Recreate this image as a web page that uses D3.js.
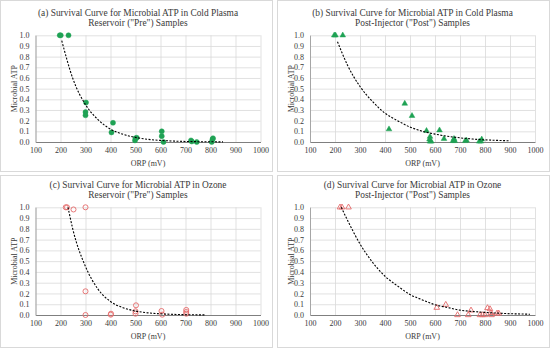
<!DOCTYPE html>
<html>
<head>
<meta charset="utf-8">
<script src="https://cdn.jsdelivr.net/npm/d3@7"></script>
<style>
  body { margin: 0; background: #fff; }
  svg text { font-family: "Times New Roman", "Liberation Serif", serif; fill: #3a3a3a; }
</style>
</head>
<body>
<svg id="chart" width="550" height="348"></svg>
<script>
// ticks
const orpTicks = [100, 200, 300, 400, 500, 600, 700, 800, 900, 1000];
const atpTicks = [0, 0.1, 0.2, 0.3, 0.4, 0.5, 0.6, 0.7, 0.8, 0.9, 1.0];

// (a) cold plasma, pre
const plasmaPreOrp = [197, 201, 232, 302, 300, 300, 404, 410, 498, 500, 505, 605, 605, 612, 722, 725, 745, 805, 808, 810];
const plasmaPreAtp = [1.0, 1.0, 1.0, 0.37, 0.28, 0.25, 0.09, 0.18, 0.015, 0.035, 0.04, 0.10, 0.055, 0.0, 0.015, 0.005, 0.0, 0.0, 0.025, 0.035];
const plasmaPreFitOrp = [205, 250, 300, 350, 400, 450, 500, 550, 600, 650, 700, 750, 800, 850];
const plasmaPreFitAtp = [0.95, 0.59, 0.35, 0.21, 0.12, 0.072, 0.043, 0.025, 0.015, 0.009, 0.005, 0.003, 0.002, 0.001];

// (b) cold plasma, post
const plasmaPostOrp = [197, 202, 231, 416, 479, 508, 566, 580, 578, 580, 585, 618, 636, 676, 672, 679, 721, 726, 777, 787, 783];
const plasmaPostAtp = [1.0, 1.0, 1.0, 0.12, 0.36, 0.245, 0.105, 0.05, 0.025, 0.005, 0.005, 0.11, 0.03, 0.03, 0.01, 0.01, 0.01, 0.015, 0.005, 0.025, 0.005];
const plasmaPostFitOrp = [210, 250, 300, 350, 400, 450, 500, 550, 600, 650, 700, 750, 800, 850, 900];
const plasmaPostFitAtp = [0.94, 0.72, 0.52, 0.38, 0.27, 0.20, 0.14, 0.10, 0.074, 0.054, 0.039, 0.028, 0.020, 0.015, 0.011];

// (c) ozone, pre
const ozonePreOrp = [221, 226, 252, 300, 300, 300, 401, 402, 502, 500, 500, 604, 607, 703, 703, 703];
const ozonePreAtp = [1.0, 1.0, 0.98, 1.0, 0.22, 0.0, 0.003, 0.012, 0.09, 0.034, 0.012, 0.037, 0.003, 0.047, 0.028, 0.012];
const ozonePreFitOrp = [230, 250, 300, 350, 400, 450, 500, 550, 600, 650, 700, 780];
const ozonePreFitAtp = [1.0, 0.79, 0.45, 0.24, 0.125, 0.068, 0.037, 0.02, 0.011, 0.006, 0.003, 0.001];

// (d) ozone, post
const ozonePostOrp = [220, 228, 254, 607, 643, 690, 733, 744, 780, 790, 800, 810, 820, 826, 824, 848, 855];
const ozonePostAtp = [1.0, 1.0, 1.0, 0.068, 0.096, 0.0, 0.0, 0.043, 0.0, 0.0, 0.0, 0.065, 0.055, 0.0, 0.02, 0.015, 0.015];
const ozonePostFitOrp = [225, 250, 300, 350, 400, 450, 500, 550, 600, 650, 700, 750, 800, 850, 900, 950, 980];
const ozonePostFitAtp = [1.0, 0.88, 0.66, 0.49, 0.36, 0.27, 0.19, 0.14, 0.095, 0.07, 0.045, 0.033, 0.024, 0.017, 0.012, 0.009, 0.007];

const green = '#1fa254';
const red = '#e46a6a';
const serif = '"Times New Roman", "Liberation Serif", serif';

const panels = [
  { title: ['(a) Survival Curve for Microbial ATP in Cold Plasma', 'Reservoir ("Pre") Samples'],
    orp: plasmaPreOrp, atp: plasmaPreAtp, fitOrp: plasmaPreFitOrp, fitAtp: plasmaPreFitAtp,
    color: green, shape: d3.symbolCircle, filled: true,
    box: [0.5, 0.5, 272, 171], x: [35.5, 260.5], y: [142, 35.3], titleY: 16 },
  { title: ['(b) Survival Curve for Microbial ATP in Cold Plasma', 'Post-Injector ("Post") Samples'],
    orp: plasmaPostOrp, atp: plasmaPostAtp, fitOrp: plasmaPostFitOrp, fitAtp: plasmaPostFitAtp,
    color: green, shape: d3.symbolTriangle, filled: true,
    box: [277.5, 0.5, 272, 171], x: [310, 535], y: [142, 35.3], titleY: 16 },
  { title: ['(c) Survival Curve for Microbial ATP in Ozone', 'Reservoir ("Pre") Samples'],
    orp: ozonePreOrp, atp: ozonePreAtp, fitOrp: ozonePreFitOrp, fitAtp: ozonePreFitAtp,
    color: red, shape: d3.symbolCircle, filled: false,
    box: [0.5, 175.5, 272, 172], x: [35.5, 260.5], y: [315, 207.3], titleY: 188 },
  { title: ['(d) Survival Curve for Microbial ATP in Ozone', 'Post-Injector ("Post") Samples'],
    orp: ozonePostOrp, atp: ozonePostAtp, fitOrp: ozonePostFitOrp, fitAtp: ozonePostFitAtp,
    color: red, shape: d3.symbolTriangle, filled: false,
    box: [277.5, 175.5, 272, 172], x: [310, 535], y: [315, 207.3], titleY: 188 }
];

const svg = d3.select('#chart');

panels.forEach(p => {
  const g = svg.append('g');
  const xScale = d3.scaleLinear().domain([100, 1000]).range(p.x);
  const yScale = d3.scaleLinear().domain([0, 1]).range(p.y);

  g.append('rect')
    .attr('x', p.box[0]).attr('y', p.box[1])
    .attr('width', p.box[2]).attr('height', p.box[3])
    .attr('fill', '#fff').attr('stroke', '#d9d9d9');

  // title
  g.selectAll('.title')
    .data(p.title)
    .enter()
    .append('text')
    .attr('class', 'title')
    .attr('x', (p.x[0] + p.x[1]) / 2 - 10)
    .attr('y', (d, i) => p.titleY + i * 10.2)
    .attr('text-anchor', 'middle')
    .style('font-family', serif)
    .style('font-size', '9.4px')
    .text(d => d);

  // gridlines
  g.append('g')
    .attr('transform', `translate(0, ${p.y[0]})`)
    .call(d3.axisBottom(xScale).tickValues(orpTicks).tickSize(p.y[1] - p.y[0]).tickFormat(''))
    .call(a => a.select('.domain').remove())
    .call(a => a.selectAll('.tick line').attr('stroke', '#d9d9d9').attr('stroke-width', 0.8));

  g.append('g')
    .attr('transform', `translate(${p.x[0]}, 0)`)
    .call(d3.axisLeft(yScale).tickValues(atpTicks).tickSize(p.x[0] - p.x[1]).tickFormat(''))
    .call(a => a.select('.domain').remove())
    .call(a => a.selectAll('.tick line').attr('stroke', '#d9d9d9').attr('stroke-width', 0.8));

  // axes
  const xAxis = g.append('g')
    .attr('transform', `translate(0, ${p.y[0]})`)
    .call(d3.axisBottom(xScale).tickValues(orpTicks).tickSize(0).tickPadding(5).tickFormat(d3.format('d')));
  xAxis.attr('font-family', serif).attr('font-size', 8);
  xAxis.select('.domain').attr('stroke', '#7f7f7f').attr('stroke-width', 1.2);
  xAxis.selectAll('text').style('font-size', '8px').style('font-family', serif).attr('fill', '#3a3a3a');

  const yAxis = g.append('g')
    .attr('transform', `translate(${p.x[0]}, 0)`)
    .call(d3.axisLeft(yScale).tickValues(atpTicks).tickSize(0).tickPadding(6).tickFormat(d3.format('.1f')));
  yAxis.attr('font-family', serif).attr('font-size', 8);
  yAxis.select('.domain').attr('stroke', '#a6a6a6').attr('stroke-width', 1);
  yAxis.selectAll('text').style('font-size', '8px').style('font-family', serif).attr('fill', '#3a3a3a');

  g.append('text')
    .attr('x', (p.x[0] + p.x[1]) / 2)
    .attr('y', p.y[0] + 23.5)
    .attr('text-anchor', 'middle')
    .style('font-family', serif)
    .style('font-size', '8px')
    .text('ORP (mV)');

  g.append('text')
    .attr('transform', `translate(${p.box[0] + 16.5}, ${(p.y[0] + p.y[1]) / 2}) rotate(-90)`)
    .attr('text-anchor', 'middle')
    .style('font-family', serif)
    .style('font-size', '8px')
    .text('Microbial ATP');

  // points
  const pts = p.orp.map((x, i) => ({ x: x, y: p.atp[i] }));
  const sym = d3.symbol().type(p.shape).size(p.shape === d3.symbolCircle ? 20 : 14);
  g.selectAll('.pt')
    .data(pts)
    .enter()
    .append('path')
    .attr('class', 'pt')
    .attr('d', sym)
    .attr('transform', d => `translate(${xScale(d.x)}, ${yScale(d.y)})`)
    .attr('fill', p.filled ? p.color : 'none')
    .attr('stroke', p.color)
    .attr('stroke-width', p.filled ? 0.5 : 0.9);

  // fitted curve
  const fit = p.fitOrp.map((x, i) => ({ x: x, y: p.fitAtp[i] }));
  g.append('path')
    .datum(fit)
    .attr('d', d3.line().x(d => xScale(d.x)).y(d => yScale(d.y)).curve(d3.curveMonotoneX))
    .attr('fill', 'none')
    .attr('stroke', '#000')
    .attr('stroke-width', 1.1)
    .attr('stroke-dasharray', '2,1.5');
});
</script>
</body>
</html>
